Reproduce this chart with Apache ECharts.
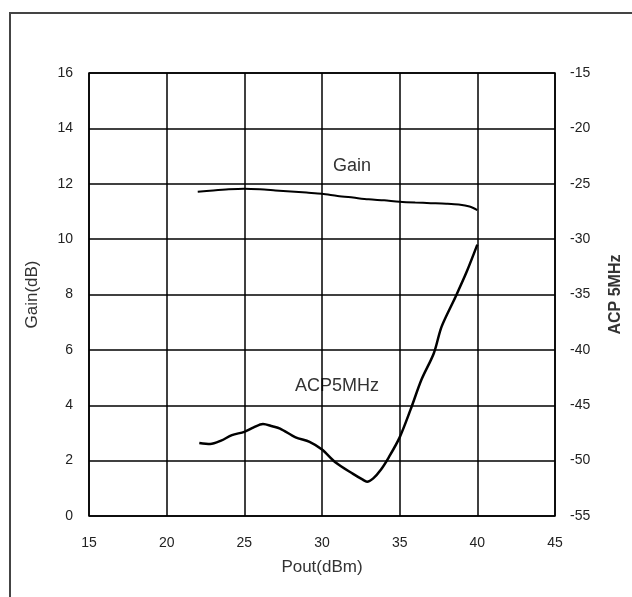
<html>
<head>
  <meta charset="utf-8">
  <title>Gain / ACP vs Pout</title>
</head>
<body style="margin:0;background:#fff;">
<div id="main" style="width:632px;height:597px;"></div>
<script src="https://cdn.jsdelivr.net/npm/echarts@6/dist/echarts.min.js"></script>
<script>
  // Pout(dBm) vs Gain(dB)
  var gainPout = [22.0, 23.0, 24.0, 25.0, 26.0, 27.0, 28.0, 29.0, 30.0, 31.0, 32.0, 33.0, 34.0, 35.0, 36.0, 37.0, 38.0, 38.8, 39.5, 40.0];
  var gainVal  = [11.71, 11.76, 11.80, 11.82, 11.80, 11.76, 11.72, 11.68, 11.64, 11.56, 11.50, 11.44, 11.40, 11.35, 11.32, 11.30, 11.28, 11.25, 11.18, 11.05];

  // Pout(dBm) vs ACP 5MHz (dBc), right axis
  var acpPout = [22.1, 22.8, 23.5, 24.2, 25.0, 25.6, 26.2, 26.8, 27.3, 28.3, 29.2, 30.0, 30.9, 32.0, 32.6, 32.9, 33.3, 33.8, 34.3, 35.0, 35.7, 36.4, 37.2, 37.7, 38.6, 39.3, 40.0];
  var acpVal  = [-48.4, -48.5, -48.2, -47.7, -47.4, -47.0, -46.7, -46.9, -47.1, -47.9, -48.3, -49.0, -50.2, -51.2, -51.7, -51.9, -51.6, -50.8, -49.7, -47.9, -45.4, -42.7, -40.3, -37.9, -35.2, -33.0, -30.5];

  function pairs(xs, ys) {
    return xs.map(function (x, i) { return [x, ys[i]]; });
  }

  var font = 'Liberation Sans, Arial, sans-serif';
  var myChart = echarts.init(document.getElementById('main'));
  myChart.setOption({
    animation: false,
    backgroundColor: '#fff',
    grid: {
      left: 89, right: 76, top: 73, bottom: 81,
      show: true, borderColor: '#000', borderWidth: 1.5
    },
    xAxis: {
      type: 'value', min: 15, max: 45, interval: 5,
      name: 'Pout(dBm)', nameLocation: 'middle', nameGap: 43,
      nameTextStyle: { color: '#333', fontSize: 17, fontFamily: font },
      axisLine: { show: false },
      axisTick: { show: false },
      axisLabel: { color: '#222', fontSize: 14, fontFamily: font, margin: 20 },
      splitLine: { show: true, lineStyle: { color: '#000', width: 1.5 } }
    },
    yAxis: [{
      type: 'value', min: 0, max: 16, interval: 2,
      name: 'Gain(dB)', nameLocation: 'middle', nameGap: 48, nameRotate: 90,
      nameTextStyle: { color: '#333', fontSize: 17, fontFamily: font },
      axisLine: { show: false },
      axisTick: { show: false },
      axisLabel: { color: '#222', fontSize: 14, fontFamily: font, margin: 16 },
      splitLine: { show: true, lineStyle: { color: '#000', width: 1.5 } }
    }, {
      type: 'value', min: -55, max: -15, interval: 5, position: 'right',
      name: 'ACP 5MHz', nameLocation: 'middle', nameGap: 53, nameRotate: 90,
      nameTextStyle: { color: '#333', fontSize: 16, fontWeight: 'bold', fontFamily: font },
      axisLine: { show: false },
      axisTick: { show: false },
      axisLabel: { color: '#222', fontSize: 14, fontFamily: font, margin: 15 },
      splitLine: { show: false }
    }],
    graphic: [
      { type: 'rect', shape: { x: 10, y: 13, width: 660, height: 640 },
        style: { fill: 'none', stroke: '#444', lineWidth: 2 }, silent: true },
      { type: 'text', left: 333, top: 157,
        style: { text: 'Gain', fill: '#333', fontSize: 18, fontFamily: font } },
      { type: 'text', left: 295, top: 377,
        style: { text: 'ACP5MHz', fill: '#333', fontSize: 18, fontFamily: font } }
    ],
    series: [{
      name: 'Gain', type: 'line', yAxisIndex: 0,
      data: pairs(gainPout, gainVal),
      smooth: 0.3, showSymbol: false,
      lineStyle: { color: '#000', width: 2 }
    }, {
      name: 'ACP5MHz', type: 'line', yAxisIndex: 1,
      data: pairs(acpPout, acpVal),
      smooth: 0.3, showSymbol: false,
      lineStyle: { color: '#000', width: 2.5 }
    }]
  });
</script>
</body>
</html>
